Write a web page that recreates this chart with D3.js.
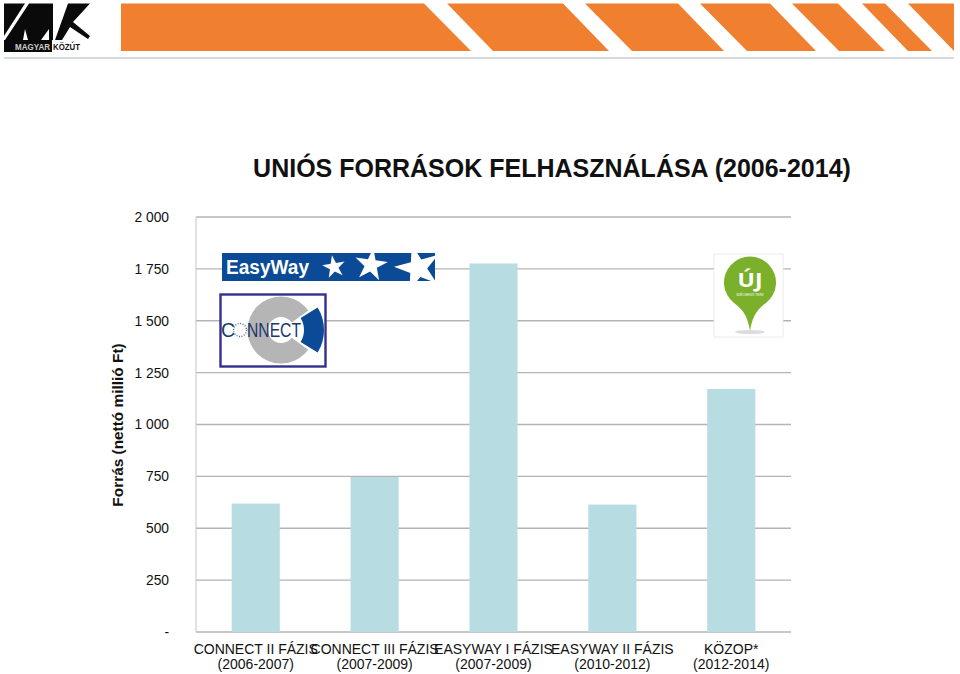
<!DOCTYPE html>
<html>
<head>
<meta charset="utf-8">
<script src="https://cdn.jsdelivr.net/npm/d3@7"></script>
<style>
  html, body { margin: 0; padding: 0; background: #fff; }
  svg { display: block; font-family: "Liberation Sans", Arial, sans-serif; }
</style>
</head>
<body>
<div id="chart"></div>
<script>
'use strict'

const categories = ['CONNECT II FÁZIS', 'CONNECT III FÁZIS', 'EASYWAY I FÁZIS', 'EASYWAY II FÁZIS', 'KÖZOP*']
const periods = ['(2006-2007)', '(2007-2009)', '(2007-2009)', '(2010-2012)', '(2012-2014)']
const values = [619, 747, 1776, 614, 1171]
const y_ticks = [0, 250, 500, 750, 1000, 1250, 1500, 1750, 2000]

const title = 'UNIÓS FORRÁSOK FELHASZNÁLÁSA (2006-2014)'
const y_title = 'Forrás (nettó millió Ft)'

// Header stripes, [top left, top right, bottom right, bottom left] x
const stripes = [
  [121, 424, 471, 121],
  [447, 563, 609, 493],
  [585, 678, 724, 632],
  [700, 770, 816, 747],
  [792, 838, 885, 839],
  [862, 885, 932, 908],
  [908, 954, 954, 954]
]

const margin = {top: 217, left: 196, bottom: 42, right: 169}
const W = 960, H = 674
const width = W - margin.left - margin.right
const height = H - margin.top - margin.bottom

const svg = d3.select('#chart').append('svg')
  .attr('width', W)
  .attr('height', H)

//--- Header ---
const head = svg.append('g')
head.selectAll('polygon.stripe')
  .data(stripes)
  .enter().append('polygon')
  .attr('class', 'stripe')
  .attr('fill', '#f08030')
  .attr('points', d => `${d[0]},3.5 ${d[1]},3.5 ${d[2]},51 ${d[3]},51`)
head.append('line')
  .attr('x1', 4).attr('x2', 954).attr('y1', 58).attr('y2', 58)
  .attr('stroke', '#c8cdd2').attr('stroke-width', 1.5)

// Magyar Kozut logo
const logo = head.append('g')
logo.append('polygon').attr('fill', '#0a0a0a')
  .attr('points', '4,3.5 25,3.5 4,36')
logo.append('polygon').attr('fill', '#0a0a0a')
  .attr('points', '5,40 23,40 25,29 28,40 41,40 49,29 49,40 53,40 53,3.5 29,3.5')
logo.append('polygon').attr('fill', '#0a0a0a')
  .attr('points', '55,40 68,3.5 90,3.5 73,22 90,36 88,39 70,27 62,40')
logo.append('rect').attr('fill', '#0a0a0a')
  .attr('x', 4).attr('y', 40).attr('width', 48).attr('height', 12)
logo.append('text').text('MAGYAR')
  .attr('x', 15).attr('y', 50).attr('fill', '#ccc')
  .attr('font-size', 8.5).attr('font-weight', 'bold')
  .attr('textLength', 35).attr('lengthAdjust', 'spacingAndGlyphs')
logo.append('text').text('KÖZÚT')
  .attr('x', 53).attr('y', 50).attr('fill', '#111')
  .attr('font-size', 8.5).attr('font-weight', 'bold')
  .attr('textLength', 27).attr('lengthAdjust', 'spacingAndGlyphs')

//--- Chart ---
const g = svg.append('g')
  .attr('transform', `translate(${margin.left},${margin.top})`)

const scale_x = d3.scaleBand()
  .domain(d3.range(categories.length))
  .range([0, width])
  .paddingInner(0.595)
  .paddingOuter(0.3)

const scale_y = d3.scaleLinear()
  .domain([0, 2000])
  .range([height, 0])

// Thousands with a space, zero as a dash
const fmt = v => v == 0 ? '-' : d3.format(',')(v).replace(',', ' ')

g.append('g')
  .selectAll('line')
  .data(y_ticks)
  .enter().append('line')
  .attr('x1', 0).attr('x2', width)
  .attr('y1', d => scale_y(d)).attr('y2', d => scale_y(d))
  .attr('stroke', '#b4b4b4').attr('stroke-width', 1.3)

g.append('line')
  .attr('x1', 0).attr('x2', 0).attr('y1', 0).attr('y2', height)
  .attr('stroke', '#c4c4c4').attr('stroke-width', 1)

const y_axis = g.append('g')
  .call(d3.axisLeft(scale_y).tickValues(y_ticks).tickFormat(fmt).tickSize(0).tickPadding(27))
y_axis.select('.domain').remove()
y_axis.selectAll('text')
  .attr('font-size', 13.8)
  .attr('font-family', '"Liberation Sans", Arial, sans-serif')
  .attr('fill', '#111')

g.selectAll('rect.bar')
  .data(values)
  .enter().append('rect')
  .attr('class', 'bar')
  .attr('fill', '#b7dde3')
  .attr('x', (d, i) => scale_x(i))
  .attr('width', scale_x.bandwidth())
  .attr('y', d => scale_y(d))
  .attr('height', d => height - scale_y(d))

// Two line category labels
g.selectAll('text.cat')
  .data(categories)
  .enter().append('text')
  .attr('class', 'cat')
  .attr('text-anchor', 'middle')
  .attr('font-size', 14)
  .attr('fill', '#111')
  .attr('x', (d, i) => scale_x(i) + scale_x.bandwidth() / 2)
  .attr('y', height + 22)
  .text(d => d)

g.selectAll('text.period')
  .data(periods)
  .enter().append('text')
  .attr('class', 'period')
  .attr('text-anchor', 'middle')
  .attr('font-size', 14)
  .attr('fill', '#111')
  .attr('x', (d, i) => scale_x(i) + scale_x.bandwidth() / 2)
  .attr('y', height + 37)
  .text(d => d)

svg.append('text')
  .text(title)
  .attr('x', 552).attr('y', 177)
  .attr('text-anchor', 'middle')
  .attr('font-size', 25)
  .attr('font-weight', 'bold')
  .attr('fill', '#111')

svg.append('text')
  .text(y_title)
  .attr('transform', 'translate(122.5,425) rotate(-90)')
  .attr('text-anchor', 'middle')
  .attr('font-size', 15.4)
  .attr('font-weight', 'bold')
  .attr('fill', '#111')

//--- EasyWay badge ---
const ew = svg.append('g')
ew.append('clipPath').attr('id', 'ew_clip')
  .append('rect').attr('x', 222).attr('y', 253).attr('width', 213).attr('height', 28)
ew.append('rect').attr('x', 222).attr('y', 253).attr('width', 213).attr('height', 28).attr('fill', '#0b4a96')
ew.append('text').text('EasyWay')
  .attr('x', 226).attr('y', 274)
  .attr('font-size', 20).attr('font-weight', 'bold').attr('fill', '#fff')
  .attr('textLength', 83).attr('lengthAdjust', 'spacingAndGlyphs')

const star = d3.symbol().type(d3.symbolStar)
const stars = [[334, 267, 160, -10], [371, 265, 330, 8], [418, 268, 650, -15]]
ew.append('g').attr('clip-path', 'url(#ew_clip)')
  .selectAll('path')
  .data(stars)
  .enter().append('path')
  .attr('d', d => star.size(d[2])())
  .attr('fill', '#fff')
  .attr('transform', d => `translate(${d[0]},${d[1]}) rotate(${d[3]})`)

//--- Connect badge ---
const cn = svg.append('g')
cn.append('rect').attr('x', 220.5).attr('y', 294.5).attr('width', 105).attr('height', 72)
  .attr('fill', '#fff').attr('stroke', '#33308f').attr('stroke-width', 2.4)
const arc = d3.arc()
cn.append('path')
  .attr('transform', 'translate(281,330)')
  .attr('fill', '#b5b5b5')
  .attr('d', arc({innerRadius: 13, outerRadius: 33.5, startAngle: 0, endAngle: 2 * Math.PI}))
cn.append('path')
  .attr('transform', 'translate(281,330)')
  .attr('fill', '#fff')
  .attr('d', arc({innerRadius: 0, outerRadius: 34.5, startAngle: 0.95, endAngle: 2.2}))
cn.append('path')
  .attr('transform', 'translate(281,330)')
  .attr('fill', '#0b4a96')
  .attr('d', arc({innerRadius: 23, outerRadius: 43, startAngle: 1.02, endAngle: 2.12}))
cn.append('text').text('C')
  .attr('x', 221).attr('y', 337).attr('font-size', 19.5).attr('fill', '#1a3a6e')
cn.append('circle').attr('cx', 240).attr('cy', 330).attr('r', 6.5)
  .attr('fill', 'none').attr('stroke', '#3a5f9f').attr('stroke-width', 1.3).attr('stroke-dasharray', '1 1.5')
cn.append('text').text('NNECT')
  .attr('x', 247).attr('y', 337).attr('font-size', 19.5).attr('fill', '#1a3a6e')
  .attr('textLength', 54).attr('lengthAdjust', 'spacingAndGlyphs')

//--- New Szechenyi pin ---
const pin = svg.append('g')
pin.append('rect').attr('x', 714).attr('y', 254).attr('width', 69).attr('height', 83)
  .attr('fill', '#fff').attr('stroke', '#e6e6e6').attr('stroke-width', 0.8)
pin.append('ellipse').attr('cx', 750).attr('cy', 332).attr('rx', 15).attr('ry', 2).attr('fill', '#dcdcdc')
pin.append('path')
  .attr('fill', '#7ab02a')
  .attr('d', 'M750,331 C748,318 744,310 734,303 A26,26 0 1 1 766,303 C756,310 752,318 750,331 Z')
pin.append('text').text('ÚJ')
  .attr('x', 750).attr('y', 287).attr('text-anchor', 'middle')
  .attr('font-size', 19).attr('font-weight', 'bold').attr('fill', '#fff')
  .attr('font-family', '"Open Sans", sans-serif')
  .attr('textLength', 25).attr('lengthAdjust', 'spacingAndGlyphs')
pin.append('text').text('SZÉCHENYI TERV')
  .attr('x', 750).attr('y', 296).attr('text-anchor', 'middle')
  .attr('font-size', 3.2).attr('fill', '#fff')
</script>
</body>
</html>
